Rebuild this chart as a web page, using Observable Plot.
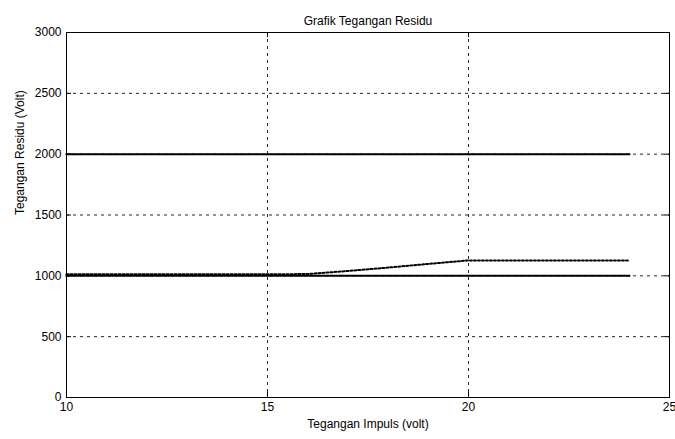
<!DOCTYPE html>
<html>
<head>
<meta charset="utf-8">
<script src="https://cdn.jsdelivr.net/npm/d3@7"></script>
<script src="https://cdn.jsdelivr.net/npm/@observablehq/plot@0.6"></script>
<style>
  html, body { margin: 0; padding: 0; background: #fff; }
</style>
</head>
<body>
<div id="chart"></div>
<script>
const tegImpuls = [10, 11, 12, 13, 14, 15, 16, 17, 18, 19, 20, 21, 22, 23, 24];
const batasAtas = [2000, 2000, 2000, 2000, 2000, 2000, 2000, 2000, 2000, 2000, 2000, 2000, 2000, 2000, 2000];
const batasBawah = [1000, 1000, 1000, 1000, 1000, 1000, 1000, 1000, 1000, 1000, 1000, 1000, 1000, 1000, 1000];
const tegResidu = [1012, 1012, 1012, 1012, 1012, 1012, 1015, 1040, 1068, 1098, 1127, 1127, 1127, 1127, 1127];
const xTicks = [10, 15, 20, 25];
const yTicks = [0, 500, 1000, 1500, 2000, 2500, 3000];
const xGrid = [15, 20];
const yGrid = [500, 1000, 1500, 2000, 2500];
const title = "Grafik Tegangan Residu";
const xLabel = "Tegangan Impuls (volt)";
const yLabel = "Tegangan Residu (Volt)";

const rows = (ys) => tegImpuls.map((x, i) => ({x, y: ys[i]}));

const W = 675, H = 439, mL = 66, mR = 6, mT = 32, mB = 42;
const pw = W - mL - mR, ph = H - mT - mB;
const tk = 5;

const chart = Plot.plot({
  width: W, height: H,
  marginLeft: mL, marginRight: mR, marginTop: mT, marginBottom: mB,
  style: {fontFamily: "'Liberation Sans', Arial, sans-serif", fontSize: "12px", color: "#000", background: "#fff"},
  x: {domain: [10, 25]},
  y: {domain: [0, 3000]},
  marks: [
    Plot.ruleX(xGrid, {stroke: "#000", strokeWidth: 1, strokeDasharray: "3,4", strokeOpacity: 0.85}),
    Plot.ruleY(yGrid, {stroke: "#000", strokeWidth: 1, strokeDasharray: "3,4", strokeOpacity: 0.85}),
    Plot.tickX(xTicks, {x: d => d, insetTop: ph - tk, stroke: "#000"}),
    Plot.tickX(xTicks, {x: d => d, insetBottom: ph - tk, stroke: "#000"}),
    Plot.tickY(yTicks, {y: d => d, insetRight: pw - tk, stroke: "#000"}),
    Plot.tickY(yTicks, {y: d => d, insetLeft: pw - tk, stroke: "#000"}),
    Plot.line(rows(batasAtas), {x: "x", y: "y", stroke: "#000", strokeWidth: 2, strokeLinecap: "square"}),
    Plot.line(rows(batasBawah), {x: "x", y: "y", stroke: "#000", strokeWidth: 2, strokeLinecap: "square"}),
    Plot.line(rows(tegResidu), {x: "x", y: "y", stroke: "#000", strokeWidth: 2, strokeDasharray: "2,2"}),
    Plot.frame({stroke: "#000", strokeWidth: 1}),
    Plot.axisX({ticks: xTicks, tickSize: 0, tickPadding: 5, label: null, fill: "#000"}),
    Plot.axisY({ticks: yTicks, tickSize: 0, tickPadding: 5, label: null, fill: "#000", tickFormat: d => String(d)}),
    Plot.text([title], {frameAnchor: "top", dy: -16, text: d => d, fill: "#000", fontSize: 12}),
    Plot.text([xLabel], {frameAnchor: "bottom", dy: 30, text: d => d, fill: "#000", fontSize: 12}),
    Plot.text([yLabel], {frameAnchor: "left", dx: -46, rotate: -90, text: d => d, fill: "#000", fontSize: 12})
  ]
});
document.getElementById("chart").appendChild(chart);
</script>
</body>
</html>
